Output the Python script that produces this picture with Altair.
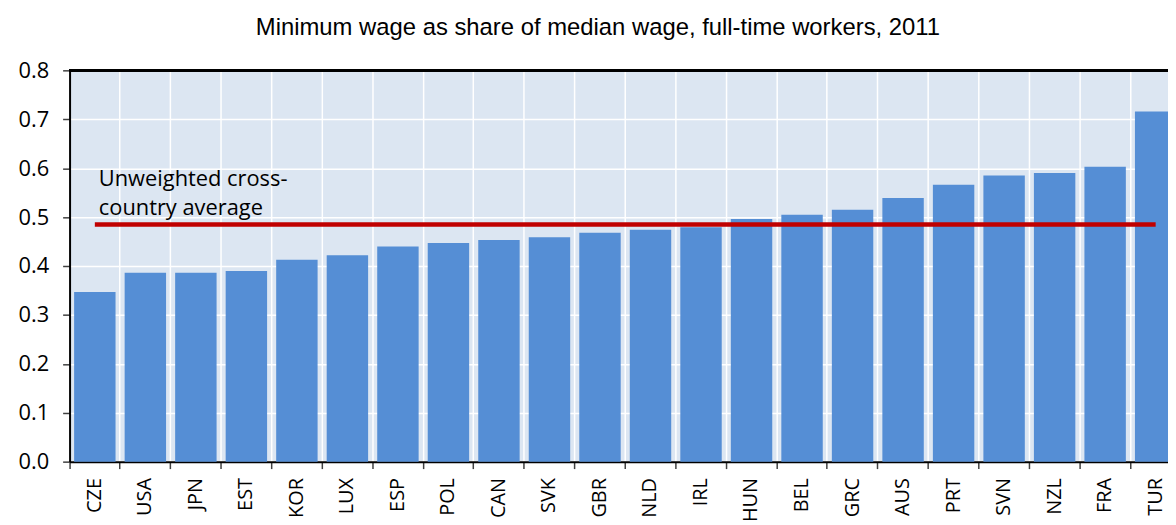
import altair as alt
import pandas as pd

countries = ["CZE", "USA", "JPN", "EST", "KOR", "LUX", "ESP", "POL", "CAN", "SVK", "GBR",
             "NLD", "IRL", "HUN", "BEL", "GRC", "AUS", "PRT", "SVN", "NZL", "FRA", "TUR"]
values = [0.347, 0.386, 0.386, 0.390, 0.413, 0.422, 0.440, 0.447, 0.453, 0.459, 0.468,
          0.474, 0.479, 0.496, 0.505, 0.515, 0.539, 0.566, 0.585, 0.590, 0.603, 0.716]
average = 0.485
y_ticks = [0.0, 0.1, 0.2, 0.3, 0.4, 0.5, 0.6, 0.7, 0.8]
title_text = "Minimum wage as share of median wage, full-time workers, 2011"
note_lines = ["Unweighted cross-", "country average"]

df = pd.DataFrame({"country": countries, "value": values})
avg_df = pd.DataFrame({"country": countries, "avg": [average] * len(countries)})
note_df = pd.DataFrame({"country": [countries[0]], "y": [0.564], "label": [note_lines]})

PLOT_W = 1106
BAND_RANGE = 1119

x_scale = alt.Scale(domain=countries, paddingInner=0, paddingOuter=0, range=[0, BAND_RANGE])
y_scale = alt.Scale(domain=[0, 0.8], nice=False, zero=True)

x_axis = alt.Axis(
    title=None, labelAngle=-90, labelFont="Open Sans", labelFontSize=20,
    labelColor="black", labelPadding=9, tickSize=7, tickColor="#404040",
    tickWidth=1.5, domainColor="black", domainWidth=2, grid=True,
    gridColor="white", gridWidth=1.5, bandPosition=0,
)
y_axis = alt.Axis(
    title=None, values=y_ticks, format=".1f", labelFont="Open Sans",
    labelFontSize=22, labelColor="black", labelPadding=14, tickSize=7,
    tickColor="#404040", tickWidth=1.5, domainColor="black", domainWidth=2,
    grid=True, gridColor="white", gridWidth=1.5,
)

bars = alt.Chart(df).mark_bar(
    color="#558ED5", width=alt.RelativeBandSize(0.82)
).encode(
    x=alt.X("country:N", sort=countries, scale=x_scale, axis=x_axis),
    y=alt.Y("value:Q", scale=y_scale, axis=y_axis),
)

avg_line = alt.Chart(avg_df).mark_line(color="#C00000", strokeWidth=4.5).encode(
    x=alt.X("country:N", sort=countries, scale=x_scale),
    y=alt.Y("avg:Q", scale=y_scale),
)

note = alt.Chart(note_df).mark_text(
    align="left", baseline="alphabetic", dx=4, font="Open Sans", fontSize=22,
    color="black", lineHeight=29,
).encode(
    x=alt.X("country:N", sort=countries, scale=x_scale),
    y=alt.Y("y:Q", scale=y_scale),
    text="label",
)

top_border = alt.Chart(df).mark_rule(color="black", strokeWidth=2).encode(
    x=alt.value(0), x2=alt.value(PLOT_W), y=alt.value(0)
)

chart = alt.layer(bars, avg_line, note, top_border).properties(
    width=PLOT_W,
    height=394,
    padding={"left": 62, "top": 61, "right": 0, "bottom": 60},
    autosize=alt.AutoSizeParams(type="none"),
    title=alt.TitleParams(
        text=title_text, font="Liberation Sans", fontSize=24, fontWeight="normal",
        color="black", anchor="middle", dx=-21, offset=20,
    ),
).configure_view(
    fill="#DCE6F2", stroke=None,
)

chart.save("out.html", embed_options={"renderer": "svg", "actions": False})
